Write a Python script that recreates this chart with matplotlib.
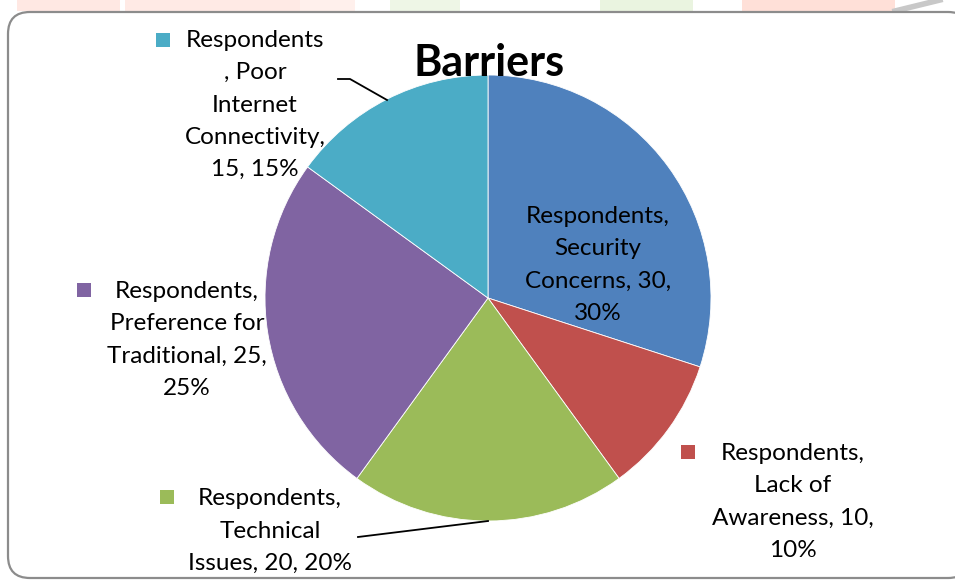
import matplotlib.pyplot as plt
from matplotlib.patches import FancyBboxPatch, Rectangle

plt.rcParams['font.family'] = ['Lato', 'DejaVu Sans']

# survey data
categories = ['Security Concerns', 'Lack of Awareness', 'Technical Issues',
              'Preference for Traditional', 'Poor Internet Connectivity']
respondents = [30, 10, 20, 25, 15]
colors = ['#4F81BD', '#C0504D', '#9BBB59', '#8064A2', '#4BACC6']

# wrapped label layouts, filled with value and percent
label_fmt = ['Respondents,\nSecurity\nConcerns, {v},\n{p}%',
             'Respondents,\nLack of\nAwareness, {v},\n{p}%',
             'Respondents,\nTechnical\nIssues, {v}, {p}%',
             'Respondents,\nPreference for\nTraditional, {v},\n{p}%',
             'Respondents\n, Poor\nInternet\nConnectivity,\n{v}, {p}%']

W, H = 955, 580
fig = plt.figure(figsize=(W / 100, H / 100), dpi=100)
ax = fig.add_axes([0, 0, 1, 1])

def Y(y):
    return H - y

# faint header strip at the very top
for x0, x1, c in [(17, 120, '#FFE8E3'), (125, 300, '#FFEAE5'), (300, 355, '#FFF0EC'),
                  (390, 460, '#EEF6E6'), (600, 693, '#EAF4E0'),
                  (742, 895, '#FFE0D8')]:
    ax.add_patch(Rectangle((x0, Y(11)), x1 - x0, 11, color=c, lw=0, zorder=0))
ax.plot([895, 940], [Y(11), Y(0)], color='#C8C8C8', lw=4, zorder=0)

# chart frame (runs off the right edge)
ax.add_patch(FancyBboxPatch((8, Y(578)), 962, 566,
                            boxstyle='round,pad=0,rounding_size=22',
                            fc='white', ec='#8C8C8C', lw=1.6, zorder=1))

total = sum(respondents)
cx, cy, r = 488, 298, 223
ax.pie(respondents, colors=colors, startangle=90, counterclock=False,
       center=(cx, Y(cy)), radius=r, frame=True,
       wedgeprops=dict(edgecolor='white', linewidth=0.6, zorder=2))
ax.set_xlim(0, W)
ax.set_ylim(0, H)
ax.axis('off')

ax.text(489, Y(63), 'Barriers', ha='center', va='center',
        fontsize=31, fontweight='bold', zorder=5)

# label centres and legend-key positions (None = no key)
label_pos = [(598, 265), (793, 502), (270, 531), (187, 340), (255, 105)]
key_pos = [None, (688, 452), (167, 497), (84, 290), (163, 40)]

fs = 17.5
for i, v in enumerate(respondents):
    p = round(100 * v / total)
    txt = label_fmt[i].format(v=v, p=p)
    lx, ly = label_pos[i]
    ax.text(lx, Y(ly), txt, ha='center', va='center', fontsize=fs,
            linespacing=1.66, zorder=5)
    if key_pos[i] is not None:
        kx, ky = key_pos[i]
        ax.add_patch(Rectangle((kx - 7, Y(ky) - 7), 14, 14,
                               color=colors[i], lw=0, zorder=5))

# leader lines
ax.plot([358, 488], [Y(537), Y(521)], color='black', lw=1.3, zorder=5)
ax.plot([338, 350, 387], [Y(79), Y(79), Y(100)], color='black', lw=1.3, zorder=5)

fig.savefig('out.png', dpi=100)
